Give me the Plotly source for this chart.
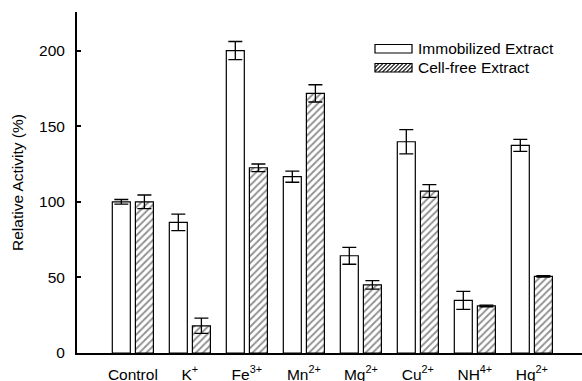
import plotly.graph_objects as go

categories = ["Control", "K<sup>+</sup>", "Fe<sup>3+</sup>", "Mn<sup>2+</sup>",
              "Mg<sup>2+</sup>", "Cu<sup>2+</sup>", "NH<sup>4+</sup>", "Hg<sup>2+</sup>"]
immobilized = [100, 86.4, 200, 116.6, 64.3, 139.7, 34.8, 137.3]
immobilized_err = [1.5, 5.5, 6, 3.7, 5.6, 8, 6, 4]
cellfree = [100, 18, 122.5, 171.7, 45, 107.1, 31.1, 50.7]
cellfree_err = [4.5, 5, 2.5, 5.7, 2.8, 4.2, 0.5, 0.5]
series_names = ["Immobilized Extract", "Cell-free Extract"]
y_ticks = [0, 50, 100, 150, 200]

W, H = 582, 381
ML, MR, MT, MB = 77, 0, 12, 28
PW, PH = W - ML - MR, H - MT - MB
FONT = "Arial, Liberation Sans, sans-serif"
FS = 15.5

x_idx = list(range(len(categories)))

fig = go.Figure()
fig.add_trace(go.Bar(
    x=x_idx, y=immobilized, name=series_names[0],
    marker=dict(color="white", line=dict(color="black", width=1.2)),
    error_y=dict(type="data", array=immobilized_err, color="black", thickness=1.3, width=7),
))
fig.add_trace(go.Bar(
    x=x_idx, y=cellfree, name=series_names[1],
    marker=dict(color="white", line=dict(color="black", width=1.2),
                pattern=dict(shape="/", size=5, solidity=0.38, fgcolor="#222222", bgcolor="white")),
    error_y=dict(type="data", array=cellfree_err, color="black", thickness=1.3, width=7),
))

def px_x(p):
    return (p - ML) / PW

def px_y(p):
    return (H - MB - p) / PH

shapes = []
lx0, lx1 = 375, 412
rows = [(44.5, 53), (63.5, 72)]
for i, (ty, by) in enumerate(rows):
    if i == 1:
        step = 4.0
        hgt = by - ty
        k = lx0 - hgt
        while k < lx1:
            xa, ya = k, by
            xb, yb = k + hgt, ty
            if xa < lx0:
                ya = by - (lx0 - xa)
                xa = lx0
            if xb > lx1:
                yb = ty + (xb - lx1)
                xb = lx1
            if xb > xa:
                shapes.append(dict(type="line", xref="paper", yref="paper",
                                   x0=px_x(xa), y0=px_y(ya), x1=px_x(xb), y1=px_y(yb),
                                   line=dict(color="#222222", width=1.1)))
            k += step
    shapes.append(dict(type="rect", xref="paper", yref="paper",
                       x0=px_x(lx0), x1=px_x(lx1), y0=px_y(by), y1=px_y(ty),
                       line=dict(color="black", width=1.2)))

annotations = []
for i, name in enumerate(series_names):
    cy = (rows[i][0] + rows[i][1]) / 2
    annotations.append(dict(text=name, xref="paper", yref="paper", x=px_x(416), y=px_y(cy),
                            xanchor="left", yanchor="middle", showarrow=False,
                            font=dict(family=FONT, size=FS, color="black")))

fig.update_layout(
    width=W, height=H,
    margin=dict(l=ML, r=MR, t=MT, b=MB, pad=0),
    paper_bgcolor="white", plot_bgcolor="white",
    barmode="group", bargap=0.19, bargroupgap=0.22,
    showlegend=False,
    font=dict(family=FONT, size=FS, color="black"),
    shapes=shapes, annotations=annotations,
    xaxis=dict(range=[-0.98, 7.88], tickmode="array", tickvals=x_idx, ticktext=categories,
               showline=True, linecolor="black", linewidth=2, ticks="", showgrid=False,
               zeroline=False, ticklabelstandoff=6, automargin=False,
               tickfont=dict(family=FONT, size=FS, color="black")),
    yaxis=dict(range=[0, 225.5], tickmode="array", tickvals=y_ticks,
               showline=True, linecolor="black", linewidth=2, ticks="inside", ticklen=4,
               tickwidth=1.5, tickcolor="black", showgrid=False, zeroline=False,
               ticklabelstandoff=7, automargin=False,
               tickfont=dict(family=FONT, size=FS, color="black"),
               title=dict(text="Relative Activity (%)", standoff=12,
                          font=dict(family=FONT, size=FS, color="black"))),
)

fig.write_html("out.html")
